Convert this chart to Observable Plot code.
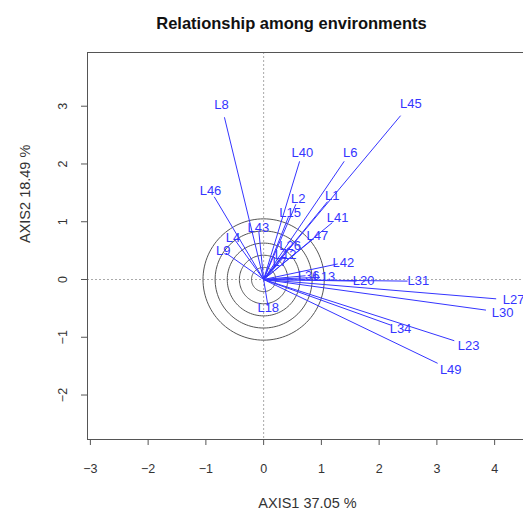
<!DOCTYPE html>
<html>
<head>
<meta charset="utf-8">
<script src="https://cdn.jsdelivr.net/npm/d3@7"></script>
<script src="https://cdn.jsdelivr.net/npm/@observablehq/plot@0.6"></script>
<style>
  html, body { margin: 0; padding: 0; background: white; }
  #chart svg { display: block; }
</style>
</head>
<body>
<div id="chart"></div>
<script>
// Environment vectors (label positions on AXIS1 / AXIS2)
const envNames = ["L8","L45","L40","L6","L46","L1","L2","L15","L41","L47","L43","L4","L9","L42","L20","L31","L27","L30","L34","L23","L49","L18","L12","L26","L7","L36","L13"];
const axis1 =    [-0.73, 2.55, 0.67, 1.50, -0.92, 1.19, 0.60, 0.46, 1.28, 0.93, -0.09, -0.53, -0.70, 1.38, 1.73, 2.68, 4.33, 4.14, 2.37, 3.55, 3.24, 0.08, 0.38, 0.46, 0.28, 0.78, 1.05];
const axis2 =    [ 3.02, 3.05, 2.20, 2.20,  1.54, 1.45, 1.40, 1.16, 1.06, 0.76,  0.90,  0.73,  0.49, 0.29, -0.03, -0.03, -0.36, -0.57, -0.85, -1.14, -1.56, -0.49, 0.42, 0.59, 0.30, 0.07, 0.04];

// Concentric circle radii
const circleRadii = [0.21, 0.42, 0.63, 0.84, 1.05];

// Axis ticks
const xTicks = [-3, -2, -1, 0, 1, 2, 3, 4];
const yTicks = [-2, -1, 0, 1, 2, 3];

const xDomain = [-3.05, 4.50];
const yDomain = [-2.77, 3.93];

const titleText = "Relationship among environments";
const xLabel = "AXIS1 37.05 %";
const yLabel = "AXIS2 18.49 %";

const envs = envNames.map((name, i) => ({name, x: axis1[i], y: axis2[i]}));
const lineShrink = 0.93;

const circlePts = [];
circleRadii.forEach((r, k) => {
  for (let a = 0; a <= 360; a += 3) {
    const t = a * Math.PI / 180;
    circlePts.push({ring: k, x: r * Math.cos(t), y: r * Math.sin(t)});
  }
});

const blue = "#3535ff";
const axisCol = "#555";

const plot = Plot.plot({
  width: 523,
  height: 514,
  marginLeft: 87,
  marginRight: 0,
  marginTop: 52,
  marginBottom: 75,
  x: {domain: xDomain},
  y: {domain: yDomain},
  style: {fontFamily: "'Liberation Sans', Arial, sans-serif", background: "white", color: "#333"},
  marks: [
    // zero reference lines
    Plot.ruleX([0], {stroke: "#aaa", strokeDasharray: "2,2"}),
    Plot.ruleY([0], {stroke: "#aaa", strokeDasharray: "2,2"}),
    // concentric circles
    Plot.line(circlePts, {x: "x", y: "y", z: "ring", stroke: "#555", strokeWidth: 1}),
    // vectors
    Plot.link(envs, {x1: () => 0, y1: () => 0, x2: d => d.x * lineShrink, y2: d => d.y * lineShrink, stroke: blue, strokeWidth: 1}),
    Plot.text(envs, {x: "x", y: "y", text: "name", fill: blue, fontSize: 13}),
    // box (left, top, bottom)
    Plot.ruleY([yDomain[0], yDomain[1]], {stroke: axisCol}),
    Plot.ruleX([xDomain[0]], {stroke: axisCol}),
    // axes
    Plot.axisX({ticks: xTicks, tickFormat: "d", tickSize: 6, tickPadding: 19, fontSize: 12.5, label: null, stroke: axisCol, fill: "#333"}),
    Plot.axisY({ticks: yTicks, tickFormat: "d", tickSize: 6, tickPadding: 15, tickRotate: -90, fontSize: 12.5, label: null, stroke: axisCol, fill: "#333"}),
    // titles
    Plot.text([titleText], {frameAnchor: "top", dy: -35, dx: -14, text: d => d, fontSize: 16.5, fontWeight: "bold", fill: "#111"}),
    Plot.text([xLabel], {frameAnchor: "bottom", dy: 68, dx: 2, text: d => d, fontSize: 14.5, fill: "#333"}),
    Plot.text([yLabel], {frameAnchor: "left", dx: -62, dy: -3, rotate: -90, text: d => d, fontSize: 14.5, fill: "#333"})
  ]
});
document.getElementById("chart").appendChild(plot);
</script>
</body>
</html>
